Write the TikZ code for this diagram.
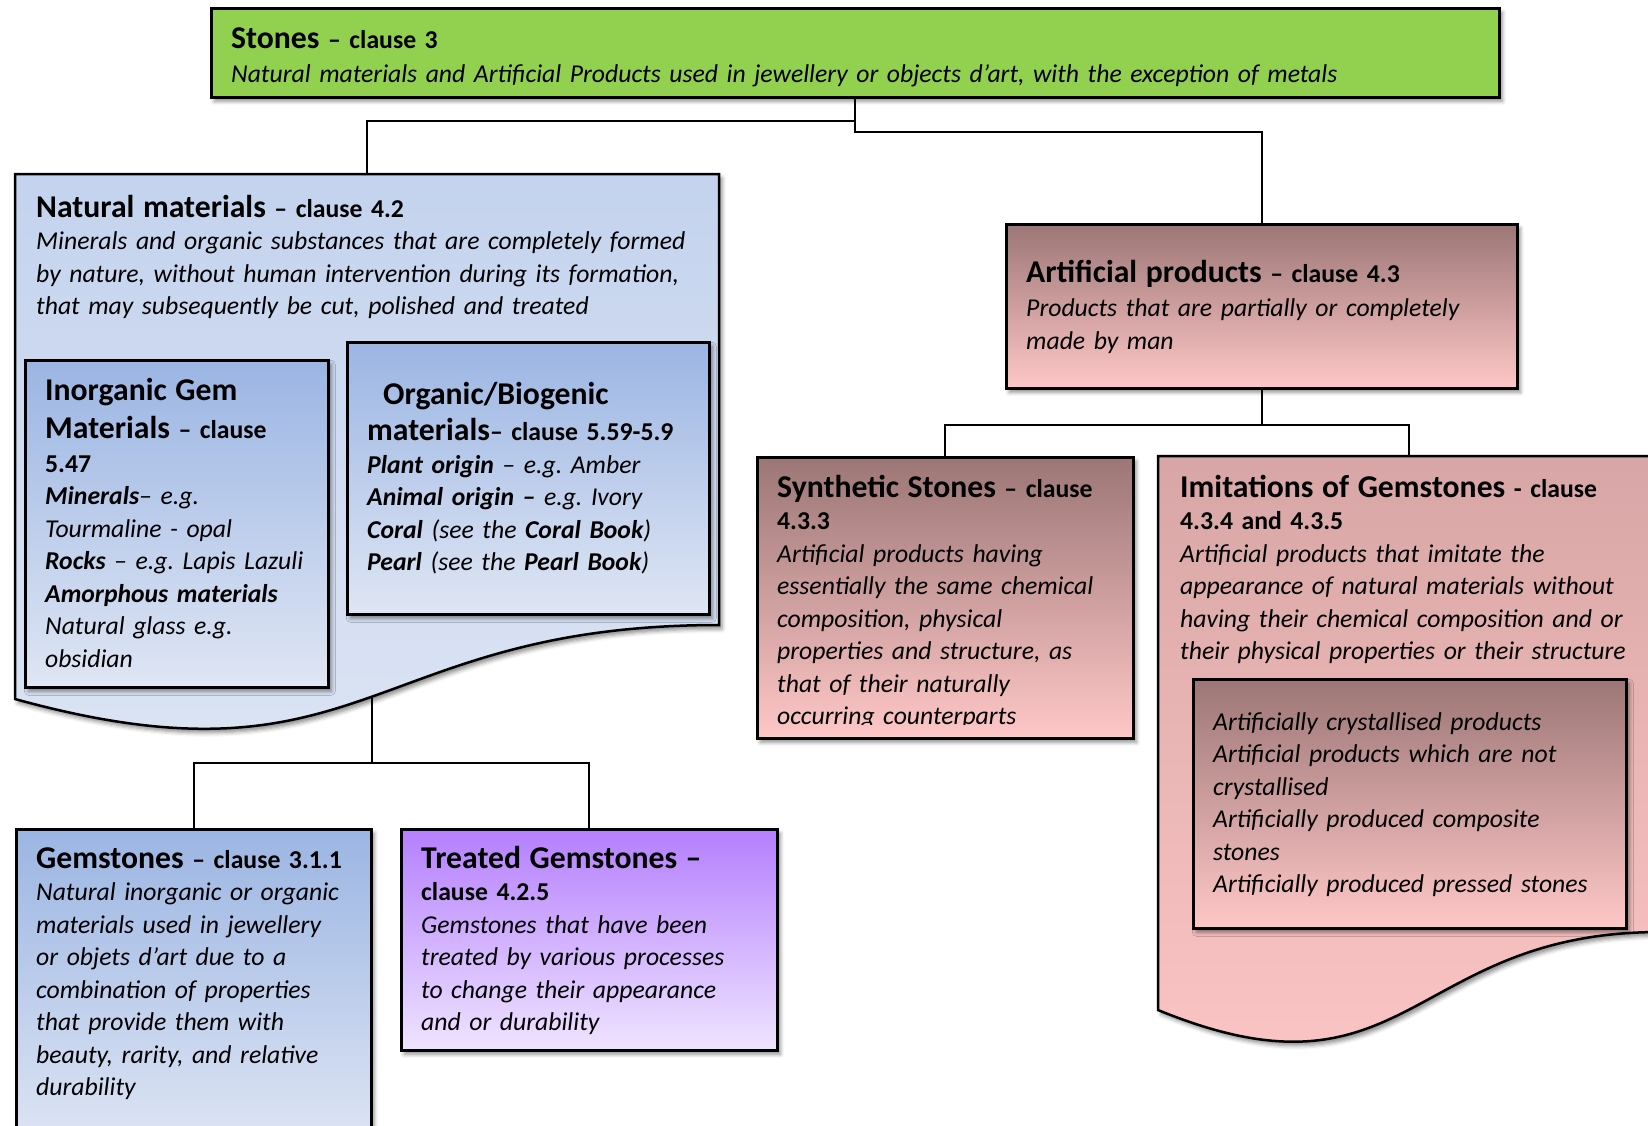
\documentclass[tikz,border=0pt]{standalone}
\usepackage{fontspec}
\setmainfont{Carlito}
\usetikzlibrary{positioning, shadows.blur}
\pgfdeclarelayer{background}
\pgfsetlayers{background,main}
\frenchspacing

\definecolor{stonegreen}{HTML}{92D050}
\definecolor{natA}{HTML}{C4D3EE}
\definecolor{natB}{HTML}{DDE5F4}
\definecolor{blueA}{HTML}{9BB5E3}
\definecolor{blueB}{HTML}{DFE6F4}
\definecolor{roseA}{HTML}{9C7676}
\definecolor{roseB}{HTML}{FFC7C7}
\definecolor{pinkA}{HTML}{D8A6A6}
\definecolor{violetA}{HTML}{B57FFE}
\definecolor{violetB}{HTML}{EFE4FF}

\newcommand{\bigT}[1]{{\fontsize{31.7}{31.7}\selectfont\bfseries #1}}
\newcommand{\midT}[1]{{\fontsize{31.7}{31.7}\selectfont\bfseries #1}}

\begin{document}
\begin{tikzpicture}[x=1pt, y=-1pt,
    box/.style={draw, line width=2.5pt, inner sep=0pt, anchor=north west,
        blur shadow={shadow xshift=3pt, shadow yshift=-4pt,
                     shadow blur radius=4pt, shadow opacity=45}},
    txt/.style={anchor=base west, inner sep=0pt, align=left, text width=760pt,
        font=\fontsize{25.7}{32.5}\selectfont},
    link/.style={line width=2pt}]

    \useasboundingbox (0,0) rectangle (1648,1125);

    \coordinate (natTop) at (367,174);
    \coordinate (natBot) at (372,698);
    \coordinate (imitTop) at (1409,456);

    \node[box, fill=stonegreen, minimum width=1288, minimum height=89] (stones) at (210,7) {};
    \node[txt, text width=1260pt] (stonesT) at (231,48) {\bigT{Stones} \textbf{– clause 3}\\[2pt]
        \itshape Natural materials and Artificial Products used in jewellery or objects d’art, with the exception of metals};

    \draw[box, top color=natA, bottom color=natB]
        (15,174) -- (719,174) -- (719,625) .. controls (367,625) and (367,796) .. (15,699) -- cycle;
    \node[txt] (naturalT) at (36,217) {\bigT{Natural materials} \textbf{– clause 4.2}\\
        \itshape Minerals and organic substances that are completely formed\\
        by nature, without human intervention during its formation,\\
        that may subsequently be cut, polished and treated};

    \node[box, top color=blueA, bottom color=blueB, minimum width=303, minimum height=327] (inorg) at (24,359) {};
    \node[txt] (inorgT) at (45,400) {\midT{Inorganic Gem}\\[6pt]
        \midT{Materials} \textbf{– clause}\\[1pt]
        \textbf{5.47}\\
        \itshape\textbf{Minerals}– e.g.\\
        Tourmaline - opal\\
        \textbf{Rocks} – e.g. Lapis Lazuli\\
        \textbf{Amorphous materials}\\
        Natural glass e.g.\\
        obsidian};

    \node[box, top color=blueA, bottom color=blueB, minimum width=362, minimum height=272] (organic) at (346,341) {};
    \node[txt] (organicT) at (367,404) {\hspace*{16pt}\midT{Organic/Biogenic}\\[4pt]
        \midT{materials}\textbf{– clause 5.59-5.9}\\
        \itshape\textbf{Plant origin} – e.g. Amber\\
        \textbf{Animal origin –} e.g. Ivory\\
        \textbf{Coral} (see the \textbf{Coral Book})\\
        \textbf{Pearl} (see the \textbf{Pearl Book})};

    \node[box, top color=roseA, bottom color=roseB, minimum width=511, minimum height=164] (artif) at (1005,223) {};
    \node[txt] (artifT) at (1026,282) {\bigT{Artificial products} \textbf{– clause 4.3}\\[2pt]
        \itshape Products that are partially or completely\\
        made by man};

    \node[box, top color=roseA, bottom color=roseB, minimum width=376, minimum height=281] (synth) at (756,456) {};
    \begin{scope}
        \clip (756,456) rectangle (1132,724);
        \node[txt] (synthT) at (777,497) {\midT{Synthetic Stones} \textbf{– clause}\\
            \textbf{4.3.3}\\
            \itshape Artificial products having\\
            essentially the same chemical\\
            composition, physical\\
            properties and structure, as\\
            that of their naturally\\
            occurring counterparts};
    \end{scope}

    \draw[box, top color=pinkA, middle color=roseB, bottom color=roseB]
        (1158,456) -- (1660,456) -- (1660,932) .. controls (1409,932) and (1409,1113) .. (1158,1010) -- cycle;
    \node[txt] (imitT) at (1180,497) {\midT{Imitations of Gemstones} \textbf{- clause}\\
        \textbf{4.3.4 and 4.3.5}\\
        \itshape Artificial products that imitate the\\
        appearance of natural materials without\\
        having their chemical composition and or\\
        their physical properties or their structure};

    \node[box, top color=roseA, bottom color=roseB, minimum width=433, minimum height=249] (imitList) at (1192,678) {};
    \node[txt] (imitListT) at (1213,730) {\itshape Artificially crystallised products\\
        Artificial products which are not\\
        crystallised\\
        Artificially produced composite\\
        stones\\
        Artificially produced pressed stones};

    \node[box, top color=blueA, bottom color=blueB, minimum width=355, minimum height=320] (gems) at (15,828) {};
    \node[txt] (gemsT) at (36,868) {\midT{Gemstones} \textbf{– clause 3.1.1}\\
        \itshape Natural inorganic or organic\\
        materials used in jewellery\\
        or objets d’art due to a\\
        combination of properties\\
        that provide them with\\
        beauty, rarity, and relative\\
        durability};

    \node[box, top color=violetA, bottom color=violetB, minimum width=376, minimum height=221] (treated) at (400,828) {};
    \node[txt] (treatedT) at (421,868) {\midT{Treated Gemstones –}\\
        \textbf{clause 4.2.5}\\
        \itshape Gemstones that have been\\
        treated by various processes\\
        to change their appearance\\
        and or durability};

    \begin{pgfonlayer}{background}
        \draw[link] (stones.south) -- ++(0,22) -| (natTop);
        \draw[link] (stones.south) -- ++(0,33) -| (artif.north);
        \draw[link] (natBot) -- ++(0,65) -| (gems.north);
        \draw[link] (natBot) -- ++(0,65) -| (treated.north);
        \draw[link] (artif.south) -- ++(0,35) -| (synth.north);
        \draw[link] (artif.south) -- ++(0,35) -| (imitTop);
    \end{pgfonlayer}

\end{tikzpicture}
\end{document}
